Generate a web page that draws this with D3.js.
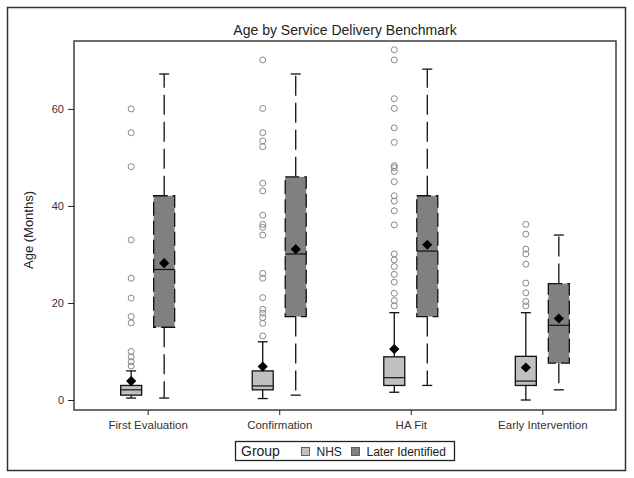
<!DOCTYPE html>
<html lang="en">
  <head>
    <meta charset="utf-8">
    <title>Age by Service Delivery Benchmark</title>
    <script src="https://d3js.org/d3.v7.min.js"></script>
    <style>
    body { margin: 0; background: #fff; }
    svg text { font-family: "Liberation Sans", Arial, sans-serif; fill: #222; }
    .axis path, .axis line { stroke: #222; }
    .axis text { font-size: 11px; fill: #333; }
    </style>
  </head>
  <body>
    <svg width="634" height="478" id="svg"></svg>
    <script>

    var categories = ["First Evaluation", "Confirmation", "HA Fit", "Early Intervention"];
    var groups = ["NHS", "Later Identified"];
    var yTicks = [0, 20, 40, 60];

    // [whisker low, q1, median, q3, whisker high, mean]
    var nhsStats = [
      [0.4, 1.0, 2.1, 3.0, 6.0, 3.9],
      [0.3, 2.1, 2.9, 6.0, 12.0, 6.9],
      [1.6, 3.0, 4.6, 8.9, 18.0, 10.5],
      [0.0, 3.0, 3.9, 9.0, 18.0, 6.7]
    ];
    var laterStats = [
      [0.4, 15.0, 26.9, 42.1, 67.2, 28.2],
      [1.0, 17.2, 30.1, 46.0, 67.2, 31.1],
      [3.0, 17.2, 30.7, 42.1, 68.2, 32.0],
      [2.1, 7.6, 15.4, 24.0, 34.0, 16.8]
    ];
    var nhsOutliers = [
      [60, 55.1, 48.1, 33, 25.1, 21, 17.2, 15.9, 10, 8.9, 7.9, 7.0],
      [70.1, 60.1, 55.1, 53.4, 52.2, 44.7, 43.1, 38.1, 36.2, 35.6, 34.0, 26.1, 25.1, 21.1, 18.7, 17.9, 17.0, 15.8, 13.2],
      [72.2, 70.1, 62.1, 60.1, 56.1, 53.1, 48.3, 47.9, 47.1, 45.0, 42.1, 41.0, 39.0, 36.1, 30.1, 28.9, 27.5, 25.9, 24.3, 22.0, 20.5, 19.4],
      [36.2, 34.2, 31.1, 30.1, 28.0, 24.1, 22.1, 20.3, 19.4]
    ];
    var laterOutliers = [[], [], [], []];

    var svg = d3.select("svg"),
        margin = {top: 41, right: 18, bottom: 68, left: 74},
        width = +svg.attr("width") - margin.left - margin.right,
        height = +svg.attr("height") - margin.top - margin.bottom;

    var x = d3.scalePoint().domain(categories).range([0, width]).padding(0.56),
        y = d3.scaleLinear().domain([-2.06, 74]).range([height, 0]);

    var fills = {"NHS": "#c0c0c0", "Later Identified": "#808080"},
        offsets = {"NHS": -16.5, "Later Identified": 16.5},
        dashes = {"NHS": null, "Later Identified": "20,7"};

    // outer border
    svg.append("rect")
        .attr("x", 7.5).attr("y", 7.5)
        .attr("width", 618).attr("height", 463)
        .attr("fill", "none").attr("stroke", "#333").attr("stroke-width", 1.5);

    svg.append("text")
        .attr("x", 345).attr("y", 35)
        .attr("text-anchor", "middle")
        .style("font-size", "14px")
        .text("Age by Service Delivery Benchmark");

    var g = svg.append("g")
        .attr("transform", "translate(" + margin.left + "," + margin.top + ")");

    g.append("g")
        .attr("class", "axis axis--x")
        .attr("transform", "translate(0," + height + ")")
        .call(d3.axisBottom(x).tickSize(5).tickPadding(6))
        .call(function(s) { s.select(".domain").remove(); })
        .selectAll("text").style("font-size", "11.5px");

    g.append("g")
        .attr("class", "axis axis--y")
        .call(d3.axisLeft(y).tickValues(yTicks).tickSize(6).tickPadding(4))
        .call(function(s) { s.select(".domain").remove(); });

    g.append("text")
        .attr("transform", "rotate(-90)")
        .attr("x", -(230 - margin.top))
        .attr("y", 28 - margin.left)
        .attr("dy", "0.35em")
        .attr("text-anchor", "middle")
        .style("font-size", "13px")
        .text("Age (Months)");

    var boxW = 21, capW = 10;

    function drawBox(stats, outliers, grp) {
      stats.forEach(function(s, i) {
        var cx = x(categories[i]) + offsets[grp];
        var b = g.append("g");
        // whiskers
        b.append("line")
            .attr("x1", cx).attr("x2", cx)
            .attr("y1", y(s[3])).attr("y2", y(s[4]))
            .attr("stroke", "#111").attr("stroke-width", 1.3)
            .attr("stroke-dasharray", dashes[grp]);
        b.append("line")
            .attr("x1", cx).attr("x2", cx)
            .attr("y1", y(s[1])).attr("y2", y(s[0]))
            .attr("stroke", "#111").attr("stroke-width", 1.3)
            .attr("stroke-dasharray", dashes[grp]);
        [s[0], s[4]].forEach(function(v) {
          b.append("line")
              .attr("x1", cx - capW / 2).attr("x2", cx + capW / 2)
              .attr("y1", y(v)).attr("y2", y(v))
              .attr("stroke", "#111").attr("stroke-width", 1.3);
        });
        b.append("rect")
            .attr("x", cx - boxW / 2)
            .attr("y", y(s[3]))
            .attr("width", boxW)
            .attr("height", y(s[1]) - y(s[3]))
            .attr("fill", fills[grp])
            .attr("stroke", "#111").attr("stroke-width", 1.3)
            .attr("stroke-dasharray", dashes[grp] ? "14,5" : null);
        b.append("line")
            .attr("x1", cx - boxW / 2).attr("x2", cx + boxW / 2)
            .attr("y1", y(s[2])).attr("y2", y(s[2]))
            .attr("stroke", "#111").attr("stroke-width", 1.2);
        b.append("path")
            .attr("d", d3.symbol(d3.symbolSquare, 52)())
            .attr("transform", "translate(" + cx + "," + y(s[5]) + ") rotate(45)")
            .attr("fill", "#000");
        b.selectAll("circle")
          .data(outliers[i])
          .enter().append("circle")
            .attr("cx", cx)
            .attr("cy", function(d) { return y(d); })
            .attr("r", 3)
            .attr("fill", "none")
            .attr("stroke", "#888")
            .attr("stroke-width", 1);
      });
    }

    drawBox(nhsStats, nhsOutliers, "NHS");
    drawBox(laterStats, laterOutliers, "Later Identified");

    // plot frame
    g.append("rect")
        .attr("width", width).attr("height", height)
        .attr("fill", "none").attr("stroke", "#222").attr("stroke-width", 1.3);

    // legend
    var lg = svg.append("g");
    lg.append("rect")
        .attr("x", 235.5).attr("y", 441.5)
        .attr("width", 219).attr("height", 19)
        .attr("fill", "#fff").attr("stroke", "#222").attr("stroke-width", 1.3);
    lg.append("text")
        .attr("x", 241).attr("y", 456)
        .style("font-size", "14px")
        .text("Group");
    var itemX = [301, 351];
    groups.forEach(function(grp, i) {
      lg.append("rect")
          .attr("x", itemX[i] + 0.5).attr("y", 447.5)
          .attr("width", 8).attr("height", 8)
          .attr("fill", fills[grp]).attr("stroke", "#444").attr("stroke-width", 0.8);
      lg.append("text")
          .attr("x", itemX[i] + 15.5).attr("y", 455.5)
          .style("font-size", "12px")
          .text(grp);
    });

    </script>
  </body>
</html>
